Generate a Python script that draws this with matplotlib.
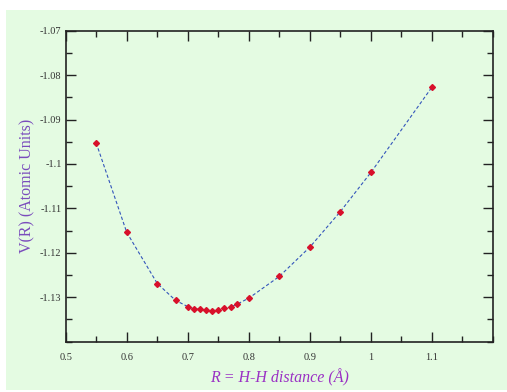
import numpy as np
import matplotlib.pyplot as plt
from matplotlib.patches import Rectangle
from matplotlib.ticker import MultipleLocator

plt.rcParams['font.family'] = ['Liberation Serif', 'DejaVu Serif']

# H-H distance (Angstrom) and energy (atomic units)
R = [0.55, 0.60, 0.65, 0.68, 0.70, 0.71, 0.72, 0.73, 0.74, 0.75,
     0.76, 0.77, 0.78, 0.80, 0.85, 0.90, 0.95, 1.00, 1.10]
V = [-1.0953, -1.1154, -1.1269, -1.1307, -1.1321, -1.1326, -1.1327, -1.1329, -1.1330, -1.1328,
     -1.1325, -1.1322, -1.1316, -1.1302, -1.1253, -1.1187, -1.1107, -1.1019, -1.0827]

xticks = [0.5, 0.6, 0.7, 0.8, 0.9, 1.0, 1.1]
xticklabels = ['0.5', '0.6', '0.7', '0.8', '0.9', '1', '1.1']
yticks = [-1.13, -1.12, -1.11, -1.1, -1.09, -1.08, -1.07]
yticklabels = ['-1.13', '-1.12', '-1.11', '-1.1', '-1.09', '-1.08', '-1.07']

bg = '#e4fbe2'
fig = plt.figure(figsize=(5.07, 3.92), dpi=100, facecolor='white')
fig.patches.append(Rectangle((6/507, 2/392), 1, 380/392, transform=fig.transFigure,
                             facecolor=bg, edgecolor='none', zorder=-1))
ax = fig.add_axes([0.1296, 0.1283, 0.8428, 0.7934])
ax.set_facecolor(bg)

ax.plot(R, V, color='#3355bb', lw=0.8, ls=(0, (3, 2)), zorder=2)
ax.plot(R, V, ls='none', marker='D', ms=3.0, color='#d8102a', mec='#d8102a', zorder=3)

ax.set_xlim(0.5, 1.2)
ax.set_ylim(-1.14, -1.07)
ax.set_xticks(xticks)
ax.set_xticklabels(xticklabels)
ax.set_yticks(yticks)
ax.set_yticklabels(yticklabels)
ax.xaxis.set_minor_locator(MultipleLocator(0.05))
ax.yaxis.set_minor_locator(MultipleLocator(0.005))
ax.tick_params(which='both', direction='in', top=True, right=True,
               labelsize=7.5, labelcolor='#333333', width=1.0, color='#222222')
ax.tick_params(which='major', length=7)
ax.tick_params(which='minor', length=4)
ax.tick_params(axis='x', pad=8)
ax.tick_params(axis='y', pad=3)
for s in ax.spines.values():
    s.set_linewidth(1.2)
    s.set_color('#222222')

ax.set_ylabel('V(R) (Atomic Units)', fontsize=11.5, color='#7a4cbc', labelpad=3)
ax.set_xlabel('R = H-H distance (Å)', fontsize=11.5, color='#9a30c4',
              style='italic', labelpad=5)

fig.savefig('out.png', dpi=100, facecolor='white')
